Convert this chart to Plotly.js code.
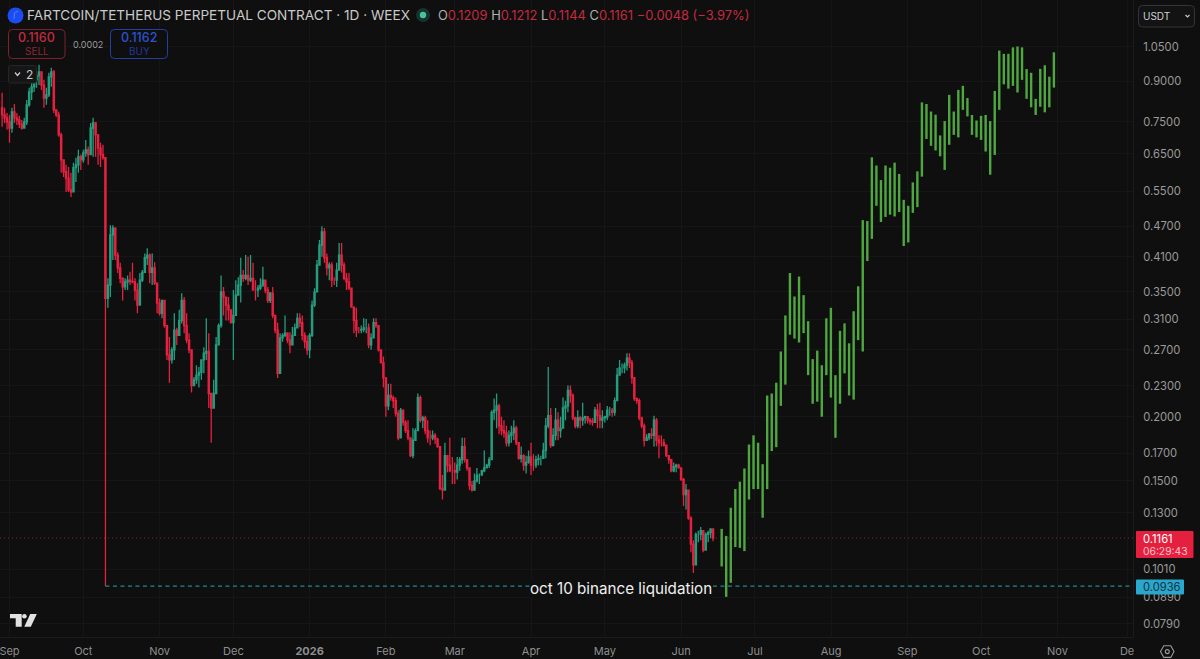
<!DOCTYPE html>
<html>
<head>
<meta charset="utf-8">
<script src="https://cdn.plot.ly/plotly-3.0.1.min.js"></script>
<style>html,body{margin:0;padding:0;background:#0f0f0f}#chart{width:1200px;height:659px}</style>
</head>
<body>
<div id="chart"></div>
<script>
// ---------- Data ----------
const firstCandleDay = '2025-08-29';
const candleHigh = [
.855,.799,.781,.774,.799,.813,.781,.771,.757,.764,.828,.874,.894,.914,.935,.969,.939,.906,.874,.935,
.956,.947,.792,.785,.715,.633,.619,.613,.597,.625,.639,.662,.648,.662,.692,.672,.747,.764,.750,.683,.683,.677,.639,
.372,.472,.472,.468,.418,.399,.374,.372,.377,.383,.399,.372,.364,.381,.386,.416,.426,.416,.416,.400,
.361,.340,.337,.337,.298,.286,.273,.318,.298,.323,.348,.342,.318,.291,.270,.239,.252,.250,.258,.273,
.311,.291,.222,.236,.286,.304,.377,.358,.342,.342,.320,.353,.369,.374,.408,.386,.413,.410,.413,.399,
.369,.361,.372,.392,.369,.358,.350,.358,.311,.305,.291,.291,.315,.292,.292,.299,.304,.318,.318,.315,
.292,.288,.291,.337,.356,.404,.442,.470,.466,.416,.400,.400,.374,.399,.436,.436,.400,.381,.381,.356,
.326,.326,.299,.301,.311,.310,.304,.291,.311,.311,.301,.270,.262,.236,.232,.232,.220,.218,.206,
.208,.201,.197,.197,.180,.190,.190,.222,.220,.201,.201,.197,.188,.188,.186,.182,.175,.154,.178,.167,
.182,.167,.163,.167,.167,.182,.182,.165,.157,.150,.155,.159,.155,.157,.172,.162,.167,.206,.217,.222,
.212,.200,.197,.192,.188,.192,.197,.192,.178,.175,.169,.168,.172,.178,.169,.168,.169,.168,.178,.199,
.250,.208,.190,.208,.204,.200,.218,.215,.230,.230,.222,.200,.206,.201,.213,.201,.200,.199,.199,.209,
.212,.213,.206,.201,.210,.209,.208,.218,.249,.258,.254,.255,.266,.266,.258,.239,.218,.217,.200,.194,
.185,.186,.190,.201,.199,.184,.184,.181,.175,.168,.165,.163,.162,.162,.159,.152,.148,.144,.128,.115,
.119,.120,.122,.118,.119,.120,.121,.1212];
const candleLow = [
.734,.747,.724,.683,.715,.747,.740,.730,.724,.730,.740,.803,.828,.858,.874,.885,.866,.799,.810,.839,
.878,.781,.767,.702,.597,.586,.548,.548,.536,.571,.573,.597,.605,.625,.642,.619,.672,.642,.642,.619,.613,.633,.0936,
.326,.342,.404,.404,.381,.364,.337,.353,.353,.361,.364,.337,.318,.356,.366,.381,.395,.364,.361,.361,
.318,.315,.311,.298,.258,.233,.254,.258,.276,.291,.304,.291,.278,.266,.223,.230,.232,.228,.236,.243,
.258,.208,.178,.208,.222,.278,.298,.315,.308,.308,.304,.258,.318,.345,.334,.366,.369,.361,.366,.353,
.337,.342,.353,.358,.348,.333,.333,.311,.291,.238,.278,.280,.286,.278,.266,.280,.291,.299,.299,.282,
.272,.264,.260,.286,.327,.353,.399,.410,.399,.377,.369,.358,.361,.358,.386,.382,.369,.353,.353,.326,
.291,.286,.291,.291,.292,.291,.272,.270,.288,.298,.268,.254,.228,.200,.206,.215,.208,.200,.180,
.190,.192,.186,.180,.167,.166,.180,.190,.195,.190,.185,.178,.176,.180,.177,.174,.144,.138,.148,.156,
.156,.148,.148,.151,.157,.162,.163,.157,.144,.143,.144,.149,.148,.155,.156,.159,.159,.165,.197,.190,
.185,.184,.182,.175,.175,.178,.180,.176,.165,.163,.157,.155,.162,.154,.157,.159,.161,.161,.166,.166,
.190,.174,.175,.180,.180,.182,.190,.197,.204,.213,.197,.190,.190,.190,.192,.194,.194,.193,.192,.195,
.190,.190,.190,.195,.197,.201,.200,.201,.215,.241,.243,.243,.246,.249,.232,.215,.212,.197,.190,.175,
.180,.180,.181,.175,.175,.166,.175,.175,.167,.162,.156,.156,.156,.159,.150,.134,.132,.126,.109,.0993,
.105,.114,.115,.109,.110,.114,.116,.1144];
const candleClose = [
.774,.764,.750,.730,.785,.764,.757,.743,.730,.750,.810,.858,.878,.906,.922,.939,.885,.835,.847,.918,
.939,.792,.774,.708,.633,.600,.583,.553,.548,.611,.619,.642,.633,.653,.662,.648,.730,.747,.708,.668,.648,.639,.340,
.361,.452,.466,.413,.390,.372,.358,.366,.369,.367,.366,.353,.330,.369,.382,.408,.413,.382,.390,.364,
.333,.318,.337,.301,.264,.258,.270,.295,.288,.308,.337,.301,.282,.270,.230,.236,.241,.244,.258,.266,
.268,.222,.208,.222,.276,.301,.350,.342,.330,.323,.305,.315,.345,.361,.377,.372,.377,.369,.372,.353,
.353,.356,.361,.369,.353,.337,.348,.315,.295,.243,.285,.288,.291,.282,.276,.288,.298,.311,.305,.288,
.280,.270,.288,.330,.350,.395,.432,.458,.408,.390,.395,.369,.369,.386,.413,.395,.372,.366,.356,.327,
.308,.295,.295,.296,.298,.298,.276,.285,.305,.301,.270,.255,.238,.210,.220,.218,.215,.203,.182,
.206,.195,.188,.182,.168,.180,.188,.218,.197,.199,.188,.182,.182,.184,.181,.175,.145,.144,.168,.161,
.157,.157,.156,.161,.165,.175,.165,.159,.147,.144,.150,.154,.154,.157,.159,.161,.165,.204,.206,.210,
.192,.188,.186,.178,.184,.186,.190,.178,.166,.168,.161,.163,.167,.161,.161,.165,.166,.166,.172,.192,
.201,.176,.184,.197,.188,.190,.208,.210,.225,.220,.199,.192,.199,.197,.199,.200,.197,.196,.195,.206,
.201,.197,.199,.200,.206,.206,.204,.215,.241,.249,.249,.252,.260,.255,.238,.217,.215,.199,.192,.180,
.182,.185,.184,.197,.180,.178,.178,.176,.168,.165,.157,.160,.161,.159,.151,.141,.144,.127,.113,.103,
.118,.118,.120,.110,.118,.119,.1209,.1161];

const projectionFirstDay = '2026-06-17T12:00:00Z';
const projectionStepDays = 1.85;
const projectionHigh = [
.121,.1172,.133,.1446,.1495,.1586,.1766,.184,.178,.1617,.220,.222,.233,.268,.315,.381,.343,.375,.345,.307,
.259,.269,.252,.311,.326,.241,.294,.304,.278,.321,.359,.483,.481,.640,.617,.578,.617,.611,.625,.594,
.529,.515,.572,.601,.819,.813,.786,.775,.706,.753,.847,.786,.866,.882,.835,.774,.755,.771,.774,.753,
.862,1.033,1.018,1.018,1.048,1.052,1.048,.951,.935,.832,.952,.967,.919,1.025];
const projectionLow = [
.1022,.0892,.0950,.1115,.1111,.1095,.138,.1446,.1446,.1272,.1446,.1715,.1745,.210,.231,.289,.284,.279,.291,.241,
.212,.214,.200,.241,.218,.182,.212,.243,.220,.216,.282,.268,.402,.444,.515,.479,.490,.495,.491,.501,
.430,.437,.499,.512,.587,.695,.674,.660,.643,.605,.677,.708,.700,.792,.769,.708,.700,.692,.657,.592,
.647,.792,.888,.871,.882,.856,.906,.832,.801,.774,.803,.783,.801,.875];

const lastPrice = 0.1161;
const sellPrice = '0.1160', buyPrice = '0.1162', spread = '0.0002';
const liquidationPrice = 0.0936;
const liquidationDay = '2025-10-10';
const priceTicks = [1.05,.9,.75,.65,.55,.47,.41,.35,.31,.27,.23,.2,.17,.15,.13,.101,.089,.079];
const priceTickText = ['1.0500','0.9000','0.7500','0.6500','0.5500','0.4700','0.4100','0.3500','0.3100','0.2700','0.2300','0.2000','0.1700','0.1500','0.1300','0.1010','0.0890','0.0790'];
const timeTicks = ['2025-09-01','2025-10-01','2025-11-01','2025-12-01','2026-01-01','2026-02-01','2026-03-01','2026-04-01','2026-05-01','2026-06-01','2026-07-01','2026-08-01','2026-09-01','2026-10-01','2026-11-01','2026-11-29 07:00'];
const timeTickText = ['Sep','Oct','Nov','Dec','<b>2026</b>','Feb','Mar','Apr','May','Jun','Jul','Aug','Sep','Oct','Nov','De'];

// ---------- Traces ----------
const DAY = 86400000;
const t0 = Date.parse(firstCandleDay + 'T00:00:00Z');
const iso = ms => new Date(ms).toISOString().slice(0,19).replace('T',' ');
const candleDays = candleClose.map((_,i)=>iso(t0 + i*DAY));
const candleOpen = candleClose.map((_,i)=> i===0 ? 0.80 : candleClose[i-1]);

const axisStart = '2025-08-28 03:20', axisEnd = '2026-12-01 17:00';

const pT0 = Date.parse(projectionFirstDay);
const barX = [], barY = [];
projectionHigh.forEach((h,i)=>{
  const d = iso(pT0 + i*projectionStepDays*DAY);
  barX.push(d,d,null); barY.push(projectionLow[i],h,null);
});

const UP='#249c7e', DOWN='#e6203f';
const traces = [
 {type:'scatter',mode:'lines',x:[axisStart,axisEnd],y:[lastPrice,lastPrice],hoverinfo:'skip',
  line:{color:'rgba(214,48,70,0.6)',width:1,dash:'1px 3px'}},
 {type:'scatter',mode:'lines',x:[liquidationDay,axisEnd],y:[liquidationPrice,liquidationPrice],hoverinfo:'skip',
  line:{color:'#1f8a90',width:1.1,dash:'4px 3.5px'}},
 {type:'candlestick',x:candleDays,open:candleOpen,high:candleHigh,low:candleLow,close:candleClose,hoverinfo:'skip',
  increasing:{line:{color:UP,width:1.3},fillcolor:UP},
  decreasing:{line:{color:DOWN,width:1.3},fillcolor:DOWN},whiskerwidth:0},
 {type:'scatter',mode:'lines',x:barX,y:barY,connectgaps:false,hoverinfo:'skip',
  line:{color:'#4fa83f',width:2.4}}
];

// ---------- Chrome helpers (pixel -> paper) ----------
const PW=1133, PH=637;
const fx=x=>x/PW, fy=y=>1-y/PH;
const note=(text,x,y,size,color,anchor,extra)=>Object.assign({
  text,xref:'paper',yref:'paper',x:fx(x),y:fy(y),xanchor:anchor||'left',yanchor:'middle',showarrow:false,
  font:{family:'Inter, sans-serif',size,color},borderpad:0,borderwidth:0},extra||{});
const P=(x,y)=>fx(x)+','+fy(y);
const pathOf=(cmds)=>cmds.map(c=>c[0]+(c.length>1?' '+c.slice(1).map((v,i,a)=>i%2?'':P(v,a[i+1])).filter(Boolean).join(' '):'')).join(' ');
const shapePath=(cmds,fill,line,width)=>({type:'path',xref:'paper',yref:'paper',layer:'above',path:pathOf(cmds),
  fillcolor:fill||'rgba(0,0,0,0)',line:{color:line||'rgba(0,0,0,0)',width:width===undefined?1:width}});
const rr=(x0,y0,x1,y1,r,fill,line,width)=>shapePath([
  ['M',x0+r,y0],['L',x1-r,y0],['Q',x1,y0,x1,y0+r],['L',x1,y1-r],['Q',x1,y1,x1-r,y1],
  ['L',x0+r,y1],['Q',x0,y1,x0,y1-r],['L',x0,y0+r],['Q',x0,y0,x0+r,y0],['Z']],fill,line,width);
const circle=(cx,cy,r,fill,line,w)=>({type:'circle',xref:'paper',yref:'paper',layer:'above',
  x0:fx(cx-r),x1:fx(cx+r),y0:fy(cy+r),y1:fy(cy-r),fillcolor:fill||'rgba(0,0,0,0)',line:{color:line||'rgba(0,0,0,0)',width:w||0}});

const shapes=[
 // symbol logo and status dot
 circle(15.5,15.5,8,'#1c4df2'),
 shapePath([['M',14,19],['L',14.5,13],['Q',15,11.5,18,11.5]],null,'#4f7dff',1),
 circle(423,15,7,'#16332c'),
 circle(423,15,3.2,'#43c5a0'),
 // sell / buy boxes
 rr(8.5,29.5,65,58.5,4,'#0f0f0f','#7d2230',1),
 rr(110.5,29.5,167.5,58.5,4,'#0f0f0f','#23409f',1),
 // collapse button
 rr(8.5,65.5,36.5,83,2,'#161617','#262628',1),
 shapePath([['M',15,72.5],['L',17.5,75.5],['L',20,72.5]],null,'#d0d0d0',1.2),
 // currency selector
 rr(1138.5,5.5,1194.5,27,4,'#131314','#343436',1),
 shapePath([['M',1185.5,15],['L',1187.5,17],['L',1189.5,15]],null,'#c8c8c8',1.2),
 // price tags
 rr(1136,531,1193.5,558,1,'#e5203f',null,0),
 rr(1136,579.5,1184,594.5,1,'#29a7cd',null,0),
 // TradingView mark
 shapePath([['M',10,614],['L',21.7,614],['L',21.7,626.7],['L',15.7,626.7],['L',15.7,618.3],['L',10,618.3],['Z']],'#e2e2e2'),
 circle(24.4,616.2,2.3,'#e2e2e2'),
 shapePath([['M',30.2,614],['L',36.8,614],['L',30.8,626.7],['L',24.3,626.7],['Z']],'#e2e2e2'),
 // settings icon
 shapePath([['M',1160.5,651.5],['L',1163.8,645.8],['L',1170.8,645.8],['L',1174,651.5],['L',1170.8,657.4],['L',1163.8,657.4],['Z']],null,'#9b9b9b',1.1),
 circle(1167.3,651.6,2,null,'#9b9b9b',1.1)
];

const RED='#c42a40', GREY='#b0b0b0';
const sp=(c,t)=>`<span style="color:${c}">${t}</span>`;
const annotations=[
 note('FARTCOIN/TETHERUS PERPETUAL CONTRACT · 1D · WEEX',27,15.5,13.6,'#c9c9c9'),
 note(sp(GREY,'O')+sp(RED,'0.1209')+' '+sp(GREY,'H')+sp(RED,'0.1212')+' '+sp(GREY,'L')+sp(RED,'0.1144')+' '+sp(GREY,'C')+sp(RED,'0.1161')+' '+sp(RED,'−0.0048 (−3.97%)'),438,15.5,12.9,RED),
 note(sellPrice,36.7,38,12.5,'#c12b40','center',{font:{family:'Inter, sans-serif',size:12.5,color:'#c12b40',weight:500}}),
 note('SELL',36.7,50.5,10,'#8f2535','center'),
 note(spread,87.5,44,9,'#9a9a9a','center'),
 note(buyPrice,139,38,12.5,'#2c52cf','center',{font:{family:'Inter, sans-serif',size:12.5,color:'#2c52cf',weight:500}}),
 note('BUY',139,50.5,10,'#21399c','center'),
 note('2',26,74.5,12,'#c8c8c8'),
 note('USDT',1142.5,16,10,'#d0d0d0'),
 note('oct 10 binance liquidation',620.5,588,15.2,'#f0f0f0','center',{bgcolor:'#0f0f0f'}),
 note('0.1161',1143,538.5,11.2,'#ffffff'),
 note('06:29:43',1143,550.5,10.3,'#f7c4cc'),
 note('0.0936',1143,587,11.2,'#10333f')
];

const GRID='#161618';
const layout={
 width:1200,height:659,margin:{l:0,r:67,t:0,b:22,pad:0},autosize:false,
 paper_bgcolor:'#0f0f0f',plot_bgcolor:'#0f0f0f',showlegend:false,hovermode:false,dragmode:false,
 xaxis:{type:'date',range:[axisStart,axisEnd],tickmode:'array',tickvals:timeTicks,ticktext:timeTickText,
  rangeslider:{visible:false},showgrid:true,gridcolor:GRID,gridwidth:1,zeroline:false,showline:true,linecolor:'#1b1b1d',linewidth:1,
  ticks:'outside',ticklen:4,tickcolor:'rgba(0,0,0,0)',tickangle:0,ticklabeloverflow:'allow',
  tickfont:{family:'Inter, sans-serif',size:11,color:'#8e8e8e'}},
 yaxis:{type:'log',side:'right',range:[Math.log10(0.0745),Math.log10(1.296)],tickmode:'array',tickvals:priceTicks,ticktext:priceTickText,
  showgrid:true,gridcolor:GRID,gridwidth:1,zeroline:false,showline:true,linecolor:'#1b1b1d',linewidth:1,
  ticks:'outside',ticklen:7,tickcolor:'rgba(0,0,0,0)',
  tickfont:{family:'Inter, sans-serif',size:11.2,color:'#9a9a9a'}},
 shapes,annotations
};
Plotly.newPlot('chart',traces,layout,{displayModeBar:false,staticPlot:true,responsive:false});
</script>
</body>
</html>
